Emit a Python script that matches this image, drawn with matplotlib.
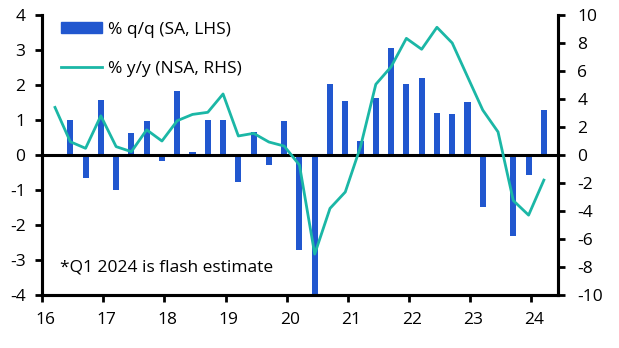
import matplotlib.pyplot as plt
import matplotlib.transforms as mtransforms
from matplotlib.patches import Patch
from matplotlib.lines import Line2D

plt.rcParams['font.family'] = ['Open Sans', 'DejaVu Sans']
plt.rcParams['axes.unicode_minus'] = False

# quarterly data, Q1 2016 .. Q1 2024
years = [2016] * 4 + [2017] * 4 + [2018] * 4 + [2019] * 4 + [2020] * 4 + \
        [2021] * 4 + [2022] * 4 + [2023] * 4 + [2024]
quarters = [1, 2, 3, 4] * 8 + [1]

# % y/y (NSA, RHS)
yoy = [3.4, 0.95, 0.48, 2.8, 0.6, 0.24, 1.8, 1.0, 2.45, 2.9, 3.05, 4.36,
       1.36, 1.55, 0.93, 0.64, -0.71, -7.07, -3.81, -2.64, 0.6, 5.05, 6.3,
       8.33, 7.55, 9.12, 8.0, 5.6, 3.21, 1.65, -3.25, -4.29, -1.79]

# % q/q (SA, LHS), starts Q2 2016
qoq = [1.0, -0.65, 1.57, -1.0, 0.64, 0.97, -0.17, 1.84, 0.09, 1.0, 1.0,
       -0.77, 0.66, -0.29, 0.97, -2.71, -4.0, 2.03, 1.53, 0.4, 1.63, 3.06,
       2.03, 2.2, 1.2, 1.17, 1.51, -1.49, 0.0, -2.31, -0.57, 1.29]

note = '*Q1 2024 is flash estimate'

# place each quarter at the middle of its last month
x = [y - 2000 + (3 * q - 0.5) / 12 for y, q in zip(years, quarters)]

blue = '#2157CF'
teal = '#1BB7A6'

fig = plt.figure(figsize=(6.19, 3.48), dpi=100)
ax = fig.add_axes([0.0683, 0.152, 0.8327, 0.805])
ax2 = ax.twinx()

ax.bar(x[1:], qoq, width=0.1, color=blue, zorder=2)
ax.axhline(0, color='black', lw=2.2, zorder=3)
ax2.plot(x, yoy, color=teal, lw=2.0, zorder=4)

ax.set_xlim(16, 24.435)
ax.set_ylim(-4, 4)
ax2.set_ylim(-10, 10)
ax.set_xticks(range(16, 25))
ax.set_yticks(range(-4, 5))
ax2.set_yticks(range(-10, 11, 2))

for a in (ax, ax2):
    for s in a.spines.values():
        s.set_linewidth(2.2)
    a.spines['top'].set_visible(False)
    a.tick_params(width=2, length=5, labelsize=12.5, colors='black')
ax.tick_params(axis='x', pad=7)
ax.tick_params(axis='y', pad=7)
ax2.tick_params(axis='y', pad=9)

# year labels sit a touch to the right of their ticks
off = mtransforms.ScaledTranslation(3 / 100, 0, fig.dpi_scale_trans)
for lbl in ax.get_xticklabels():
    lbl.set_transform(lbl.get_transform() + off)

handles = [Patch(color=blue), Line2D([], [], color=teal, lw=2.0)]
ax2.legend(handles, ['% q/q (SA, LHS)', '% y/y (NSA, RHS)'], loc='upper left',
           bbox_to_anchor=(0.012, 1.02), frameon=False, fontsize=12.5,
           handlelength=2.4, handleheight=0.6, handletextpad=0.35,
           labelspacing=1.35, borderaxespad=0.3)

ax.text(0.035, 0.1, note, transform=ax.transAxes, fontsize=12.5,
        va='center', ha='left')

fig.savefig('out.png', dpi=100)
